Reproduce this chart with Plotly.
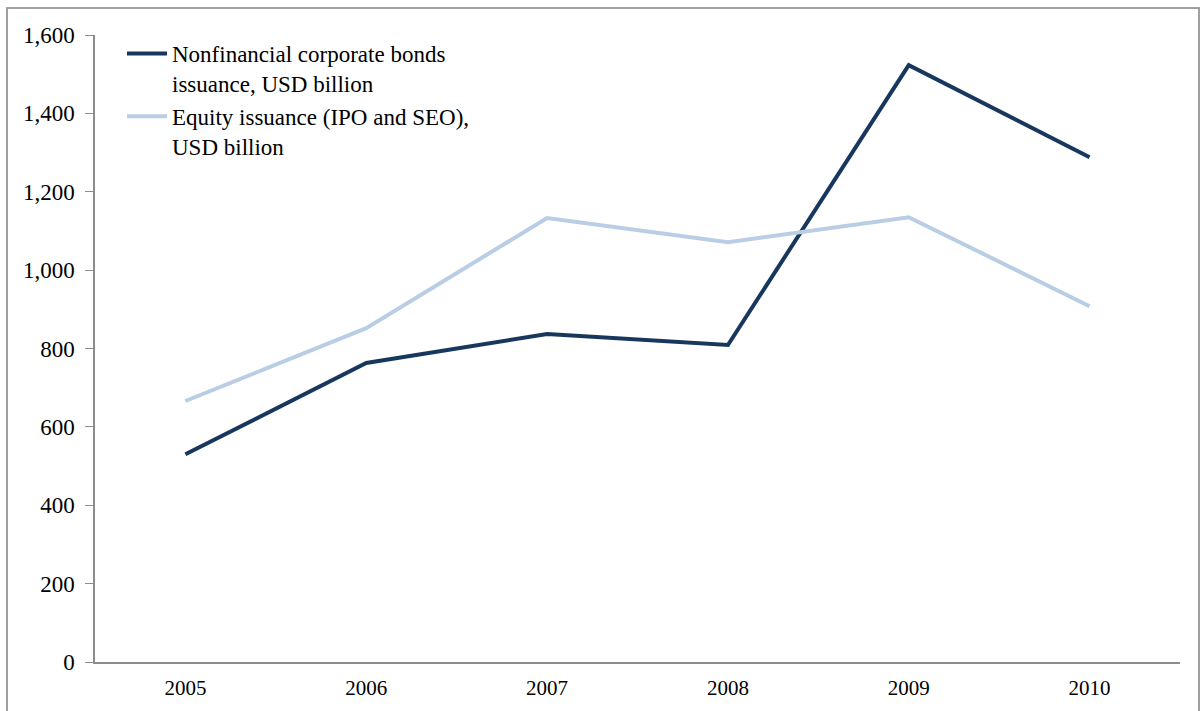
import plotly.graph_objects as go

years = ["2005", "2006", "2007", "2008", "2009", "2010"]
bonds = [530, 763, 837, 809, 1523, 1288]
equity = [666, 852, 1133, 1071, 1135, 908]
y_ticks = [0, 200, 400, 600, 800, 1000, 1200, 1400, 1600]
y_tick_text = ["0", "200", "400", "600", "800", "1,000", "1,200", "1,400", "1,600"]

W, H = 1200, 711
L, R, T, B = 95, 20, 35, 49
pw, ph = W - L - R, H - T - B

def px(x):
    return (x - L) / pw

def py(y):
    return (H - B - y) / ph

font = "Liberation Serif"
axis_col = "#8c8c8c"

fig = go.Figure()
fig.add_trace(go.Scatter(x=years, y=bonds, mode="lines",
                         name="Nonfinancial corporate bonds<br>issuance, USD billion",
                         line=dict(color="#17375E", width=4)))
fig.add_trace(go.Scatter(x=years, y=equity, mode="lines",
                         name="Equity issuance (IPO and SEO),<br>USD billion",
                         line=dict(color="#B9CDE5", width=4)))

fig.update_layout(
    width=W, height=H,
    margin=dict(l=L, r=R, t=T, b=B),
    paper_bgcolor="white", plot_bgcolor="white",
    font=dict(family=font, size=22, color="black"),
    showlegend=True,
    legend=dict(x=px(122), y=py(32), xanchor="left", yanchor="top",
                bgcolor="rgba(0,0,0,0)", font=dict(size=23, family=font, color="black"),
                tracegroupgap=0, itemwidth=40, valign="top"),
    xaxis=dict(type="category", range=[-0.5, 5.5], showgrid=False,
               showline=True, linecolor=axis_col, linewidth=1.5,
               ticks="", tickfont=dict(size=21, family=font), ticklabelstandoff=6),
    yaxis=dict(range=[0, 1600], tickvals=y_ticks, ticktext=y_tick_text,
               showgrid=False, zeroline=False, showline=True,
               linecolor=axis_col, linewidth=1.5, ticks="outside",
               ticklen=8, tickcolor=axis_col, tickfont=dict(size=23, family=font),
               ticklabelstandoff=6),
    shapes=[dict(type="rect", xref="paper", yref="paper",
                 x0=px(7), x1=px(1199), y0=py(715), y1=py(8),
                 line=dict(color="#a0a0a0", width=2), layer="below")],
)

fig.write_html("out.html")
